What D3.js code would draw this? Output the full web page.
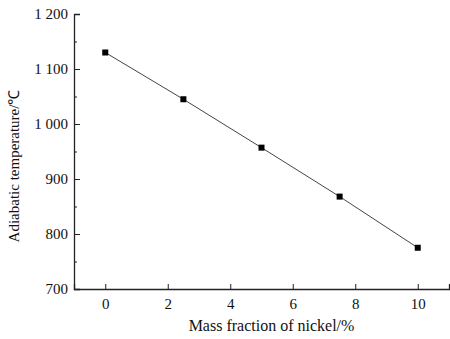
<!DOCTYPE html>
<html>
<head>
<meta charset="utf-8">
<script src="https://cdn.jsdelivr.net/npm/d3@7"></script>
<style>
body { margin: 0; background: #fff; }
text { font-family: "Liberation Serif", "Times New Roman", serif; fill: #111; }
</style>
</head>
<body>
<div class="container"></div>
<script>
// values
var nickel = [0, 2.5, 5, 7.5, 10];
var tempC = [1130, 1045, 957, 868, 775];
var xTicks = [0, 2, 4, 6, 8, 10];
var yTicks = [700, 800, 900, 1000, 1100, 1200];
var yMinor = [750, 850, 950, 1050, 1150];

var W = 450, H = 339;
var serif = "'Liberation Serif', 'Times New Roman', serif";

var svg = d3.select(".container")
	.append("svg")
	.attr("width", W)
	.attr("height", H);

var x = d3.scaleLinear().domain([-1, 11]).range([74, 449]);
var y = d3.scaleLinear().domain([700, 1200]).range([289, 14]);

function fmt(d) {
	return d >= 1000 ? Math.floor(d / 1000) + " " + d3.format("03d")(d % 1000) : String(d);
}

// x axis, ticks pointing up into the plot
var gx = svg.append("g")
	.attr("transform", "translate(0," + y(700) + ")")
	.call(d3.axisBottom(x).tickValues(xTicks).tickSize(-5).tickPadding(9).tickFormat(fmt));

// y axis, ticks pointing right
var gy = svg.append("g")
	.attr("transform", "translate(" + x(-1) + ",0)")
	.call(d3.axisLeft(y).tickValues(yTicks).tickSize(-6).tickPadding(12).tickFormat(fmt));

svg.append("g")
	.attr("transform", "translate(" + x(-1) + ",0)")
	.call(d3.axisLeft(y).tickValues(yMinor).tickSize(-3).tickFormat(""))
	.select(".domain").remove();

svg.selectAll("g").attr("font-family", serif);
svg.selectAll(".domain").attr("stroke", "#222").attr("stroke-width", 1.3);
svg.selectAll(".tick line").attr("stroke", "#222");
svg.selectAll(".tick text")
	.style("font-family", serif)
	.style("font-size", "15px")
	.attr("fill", "#111");
gy.selectAll(".tick text").attr("x", -6);

// line + square markers
var pts = nickel.map(function(d, i) { return [d, tempC[i]]; });
var line = d3.line().x(function(d) { return x(d[0]); }).y(function(d) { return y(d[1]); });

svg.append("path")
	.datum(pts)
	.attr("fill", "none")
	.attr("stroke", "#444")
	.attr("stroke-width", 1)
	.attr("d", line);

svg.selectAll("rect.pt")
	.data(pts)
	.enter()
	.append("rect")
	.classed("pt", true)
	.attr("x", function(d) { return x(d[0]) - 3; })
	.attr("y", function(d) { return y(d[1]) - 3; })
	.attr("width", 6)
	.attr("height", 6)
	.attr("fill", "#000");

// axis titles
svg.append("text")
	.attr("x", (x(-1) + 449) / 2 + 10)
	.attr("y", 331)
	.attr("text-anchor", "middle")
	.style("font-size", "16px")
	.text("Mass fraction of nickel/%");

svg.append("text")
	.attr("transform", "translate(19," + 166 + ") rotate(-90)")
	.attr("text-anchor", "middle")
	.style("font-size", "15px")
	.text("Adiabatic temperature/℃");
</script>
</body>
</html>
